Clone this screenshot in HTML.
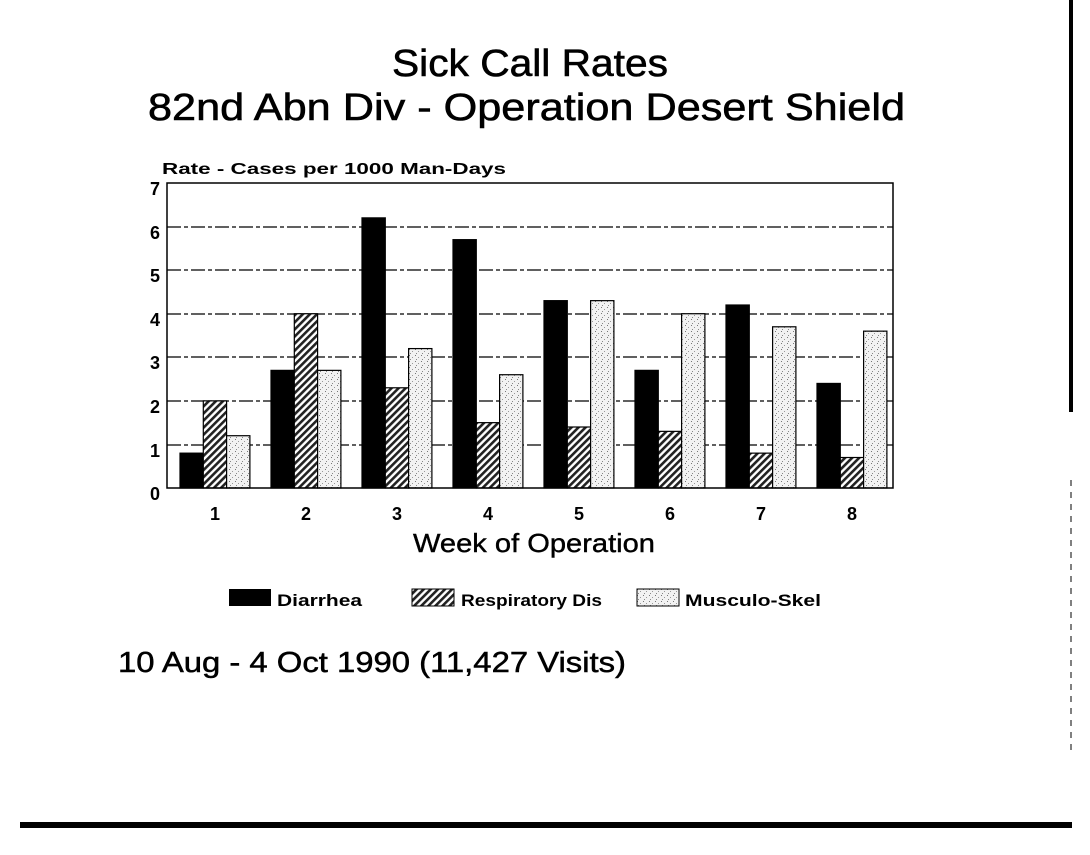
<!DOCTYPE html>
<html><head><style>
body{margin:0;background:#fff;}
svg text{font-family:"Liberation Sans",sans-serif;fill:#000;}
</style></head><body>
<svg width="1090" height="850" viewBox="0 0 1090 850" xmlns="http://www.w3.org/2000/svg">
<defs>
<pattern id="hatch" width="5" height="5" patternUnits="userSpaceOnUse" patternTransform="rotate(-45)">
<rect width="5" height="5" fill="#fff"/><rect width="5" height="2.6" fill="#222"/></pattern>
<pattern id="dots" width="6" height="6" patternUnits="userSpaceOnUse">
<rect width="6" height="6" fill="#f2f2f2"/><rect x="1" y="1" width="1" height="1" fill="#777"/><rect x="4" y="3" width="1" height="1" fill="#999"/><rect x="2" y="5" width="1" height="1" fill="#888"/></pattern>
</defs>
<text x="392" y="76" font-size="38" textLength="276" lengthAdjust="spacingAndGlyphs" stroke="#000" stroke-width="0.6">Sick Call Rates</text>
<text x="148" y="120" font-size="38" textLength="757" lengthAdjust="spacingAndGlyphs" stroke="#000" stroke-width="0.6">82nd Abn Div - Operation Desert Shield</text>
<text x="162" y="174" font-size="16" font-weight="bold" textLength="344" lengthAdjust="spacingAndGlyphs">Rate - Cases per 1000 Man-Days</text>
<g stroke="#000" stroke-width="1.3" stroke-dasharray="14 3 4 3">
<line x1="167" y1="227" x2="893" y2="227"/><line x1="167" y1="270" x2="893" y2="270"/>
<line x1="167" y1="314" x2="893" y2="314"/><line x1="167" y1="357" x2="893" y2="357"/>
<line x1="167" y1="401" x2="893" y2="401"/><line x1="167" y1="445" x2="893" y2="445"/>
</g>
<g font-size="18" font-weight="bold" text-anchor="end">
<text x="160" y="195">7</text><text x="160" y="239">6</text><text x="160" y="282">5</text>
<text x="160" y="326">4</text><text x="160" y="369">3</text><text x="160" y="413">2</text>
<text x="160" y="457">1</text><text x="160" y="500">0</text>
</g>
<g id="bars" stroke="#000" stroke-width="1.2"></g>
<rect x="167" y="183" width="726" height="305" fill="none" stroke="#000" stroke-width="1.5"/>
<g font-size="18" font-weight="bold" text-anchor="middle">
<text x="215" y="520">1</text><text x="306" y="520">2</text><text x="397" y="520">3</text><text x="488" y="520">4</text>
<text x="579" y="520">5</text><text x="670" y="520">6</text><text x="761" y="520">7</text><text x="852" y="520">8</text>
</g>
<text x="413" y="552" font-size="26" textLength="242" lengthAdjust="spacingAndGlyphs" stroke="#000" stroke-width="0.4">Week of Operation</text>
<rect x="229" y="589" width="42" height="17" fill="#000"/>
<text x="277" y="606" font-size="17" font-weight="bold" textLength="85" lengthAdjust="spacingAndGlyphs">Diarrhea</text>
<rect x="412" y="589" width="42" height="17" fill="url(#hatch)" stroke="#000"/>
<text x="461" y="606" font-size="17" font-weight="bold" textLength="141" lengthAdjust="spacingAndGlyphs">Respiratory Dis</text>
<rect x="637" y="589" width="42" height="17" fill="url(#dots)" stroke="#000"/>
<text x="685" y="606" font-size="17" font-weight="bold" textLength="136" lengthAdjust="spacingAndGlyphs">Musculo-Skel</text>
<text x="118" y="672" font-size="29" textLength="508" lengthAdjust="spacingAndGlyphs" stroke="#000" stroke-width="0.5">10 Aug - 4 Oct 1990 (11,427 Visits)</text>
<rect x="20" y="822" width="1052" height="6" fill="#000"/>
<rect x="1069" y="0" width="4" height="412" fill="#000"/>
<line x1="1071" y1="480" x2="1071" y2="750" stroke="#000" stroke-width="1" stroke-dasharray="6 6"/>
</svg>
<script>
var d=[[.8,2,1.2],[2.7,4,2.7],[6.2,2.3,3.2],[5.7,1.5,2.6],[4.3,1.4,4.3],[2.7,1.3,4.0],[4.2,.8,3.7],[2.4,.7,3.6]];
var f=["#000","url(#hatch)","url(#dots)"],g=document.getElementById("bars"),s="";
d.forEach(function(r,i){r.forEach(function(v,j){var h=v*43.57,x=180+i*91+j*23.3;
s+='<rect x="'+x+'" y="'+(488-h)+'" width="23.3" height="'+h+'" fill="'+f[j]+'"/>';});});
g.innerHTML=s;
</script>
</body></html>
